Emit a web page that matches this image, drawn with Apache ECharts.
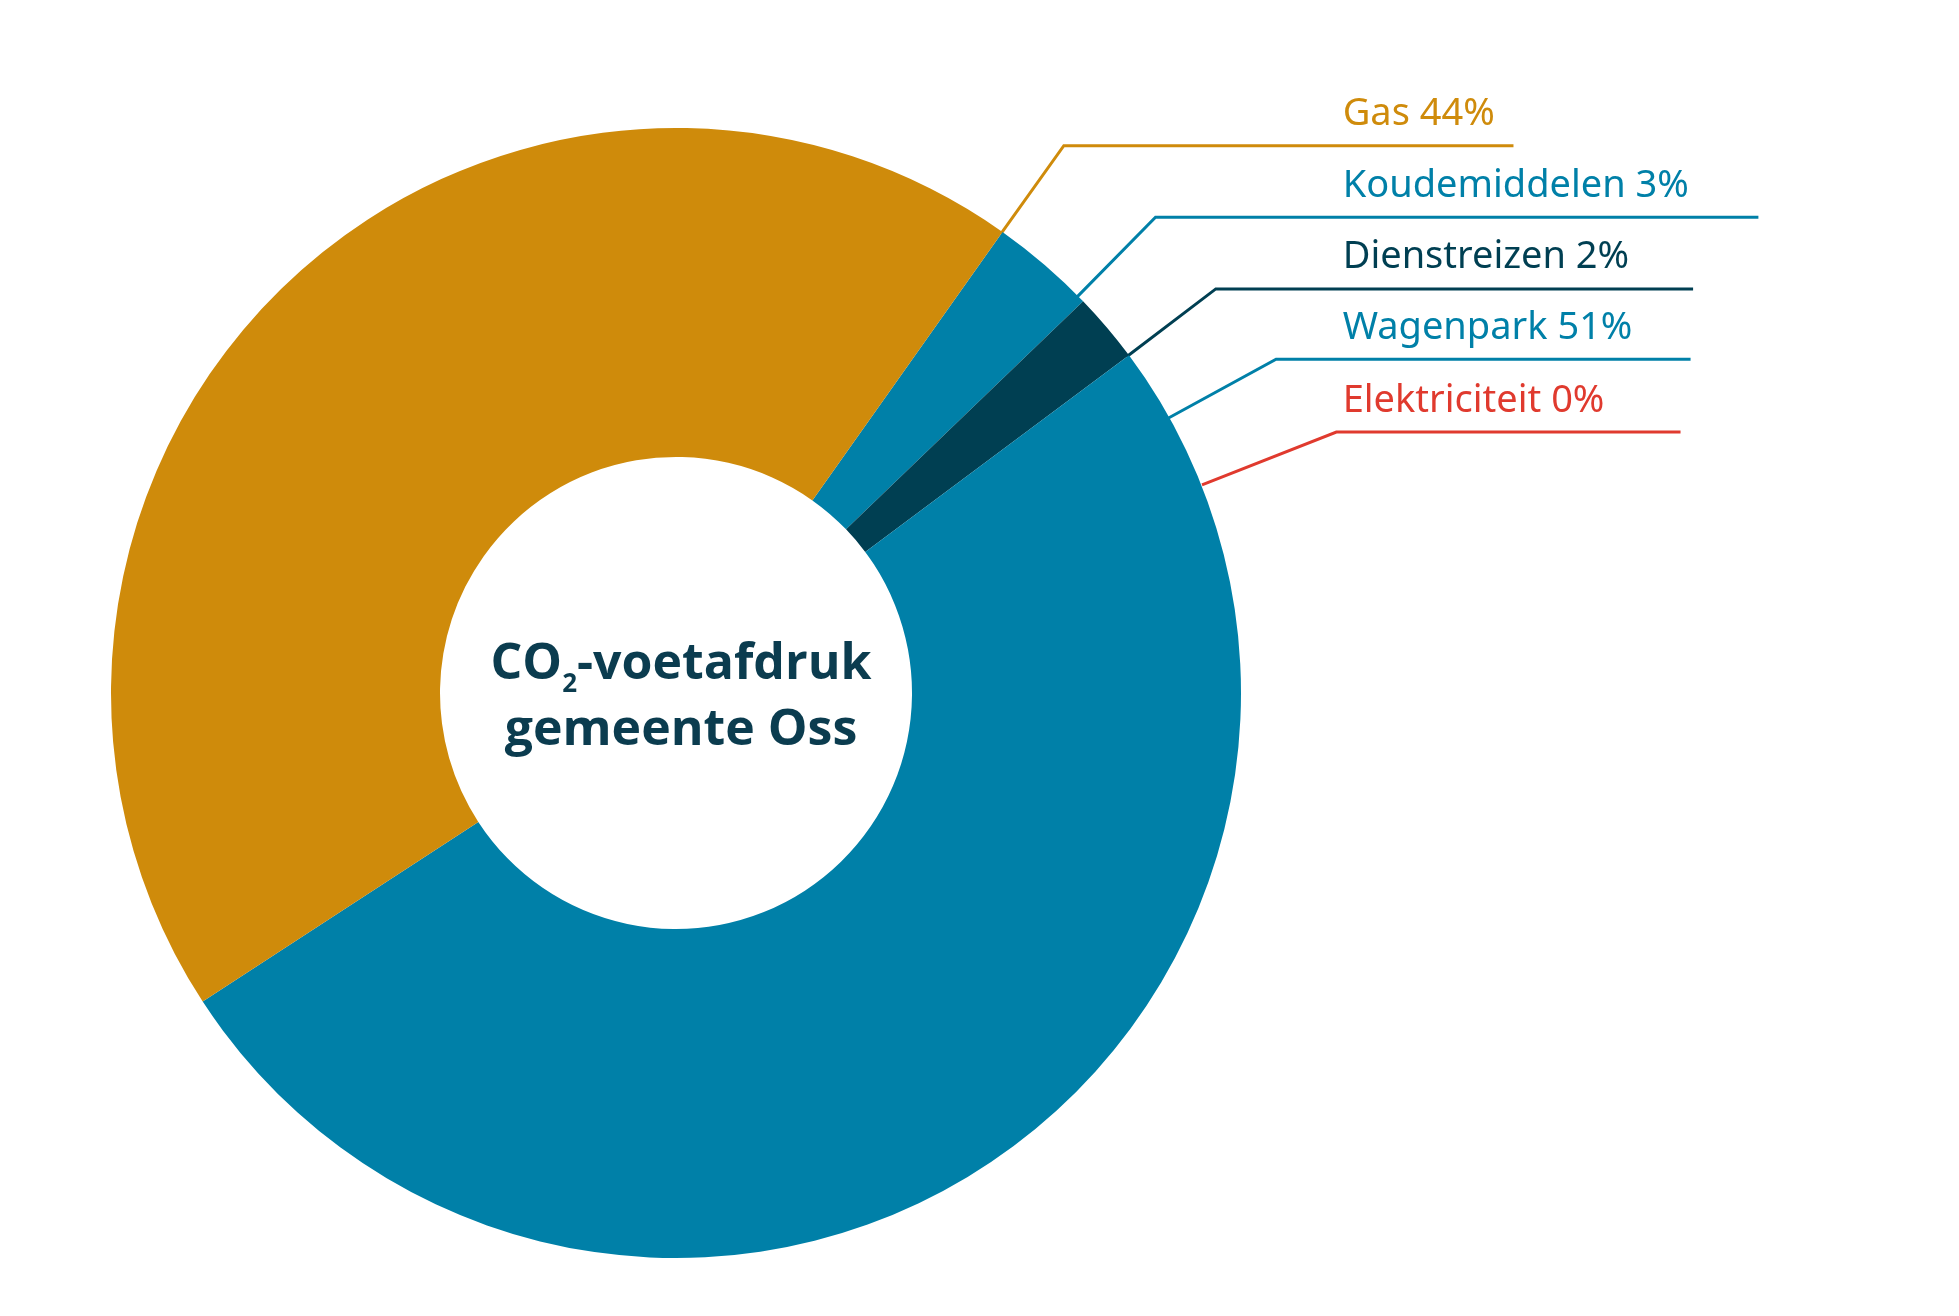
<!DOCTYPE html>
<html><head><meta charset="utf-8">
<script src="https://cdn.jsdelivr.net/npm/echarts@6/dist/echarts.min.js"></script>
<style>html,body{margin:0;padding:0;background:#fff}#c{width:1959px;height:1316px}</style>
</head><body><div id="c"></div>
<script>
const categories = ['Koudemiddelen','Dienstreizen','Wagenpark','Elektriciteit','Gas'];
const values = [3, 2, 51, 0, 44];
const colors = ['#0080A8','#003F52','#0080A8','#E03A2E','#CF8B0B'];
const legendOrder = ['Gas','Koudemiddelen','Dienstreizen','Wagenpark','Elektriciteit'];

const S = 1.256;
// label layout (reference px): [anchorX, anchorY, underlineStartX, underlineY, underlineEndX]
const lines = {
  'Gas':[797,186,847,116,1205],
  'Koudemiddelen':[857,237,920,173,1400],
  'Dienstreizen':[897,284,968,230,1348],
  'Wagenpark':[930,333,1016,286,1346],
  'Elektriciteit':[957,386,1064,344,1338]
};
const graphics = [];
legendOrder.forEach(name=>{
  const i = categories.indexOf(name);
  const l = lines[name];
  graphics.push({type:'polyline', silent:true,
    shape:{points:[[l[0]*S,l[1]*S],[l[2]*S,l[3]*S],[l[4]*S,l[3]*S]]},
    style:{stroke:colors[i], lineWidth:3, fill:null}});
  graphics.push({type:'text', left:1069*S, top:(l[3]-40)*S,
    style:{text:name+' '+values[i]+'%', fill:colors[i], font:'38px "Noto Sans", sans-serif'}});
});
graphics.push({type:'text', left:'center', top:'middle', x:0,
  style:{}, invisible:true});

const chart = echarts.init(document.getElementById('c'));
chart.setOption({
  animation:false,
  graphic:graphics.slice(0,-1),
  title:{
    text:'{a|CO}{s|2}{a|-voetafdruk}\n{a|gemeente Oss}',
    left:676, top:693, textAlign:'center', textVerticalAlign:'middle',
    textStyle:{rich:{
      a:{fontSize:50, fontWeight:'bold', color:'#0B3C4F', fontFamily:'"Open Sans", sans-serif', lineHeight:66},
      s:{fontSize:26, fontWeight:'bold', color:'#0B3C4F', fontFamily:'"Open Sans", sans-serif', verticalAlign:'bottom', padding:[22,0,0,0], lineHeight:66}
    }}
  },
  series:[{
    type:'pie', center:[676,693], radius:[236,565], startAngle:54.7, clockwise:true,
    label:{show:false}, labelLine:{show:false}, silent:true,
    data:categories.map((c,i)=>({name:c, value:values[i], itemStyle:{color:colors[i]}}))
  }]
});
</script></body></html>
